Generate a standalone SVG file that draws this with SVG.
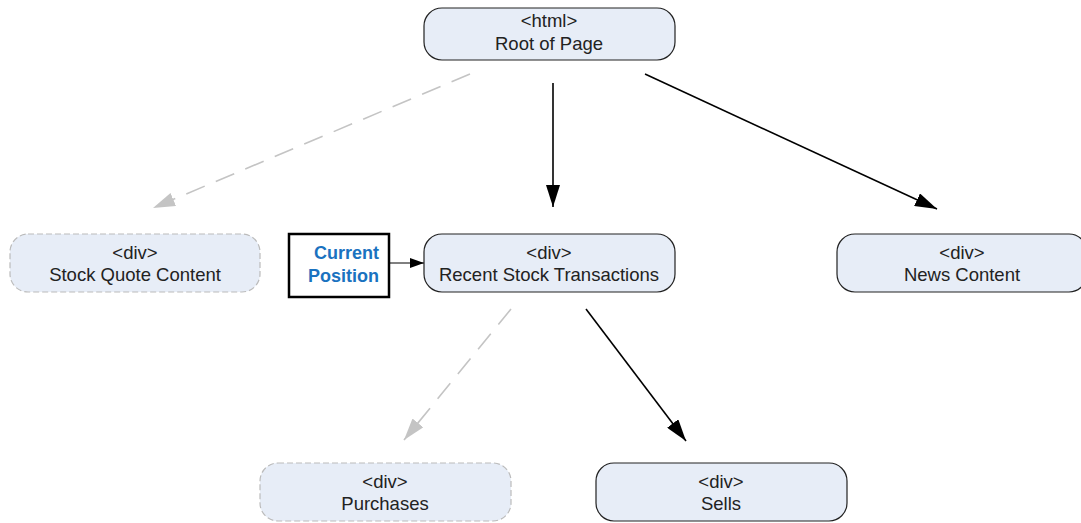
<svg xmlns="http://www.w3.org/2000/svg" width="1081" height="523" viewBox="0 0 1081 523">
<style>
.node{fill:#e7edf7;stroke:#222;stroke-width:1.2}
.ghost{fill:#e7edf7;stroke:#bbb;stroke-width:1.2;stroke-dasharray:6 3}
.t{font-family:"Liberation Sans",Arial,sans-serif;font-size:18.5px;fill:#222;text-anchor:middle}
.cp{font-family:"Liberation Sans",Arial,sans-serif;font-size:18px;font-weight:bold;fill:#1a72c0;text-anchor:end}
.e{stroke:#000;stroke-width:1.6;fill:none}
.g{stroke:#c4c4c4;stroke-width:1.6;fill:none;stroke-dasharray:20 12}
</style>
<defs>
<marker id="ab" viewBox="0 0 22 14" refX="22" refY="7" markerWidth="22" markerHeight="14" markerUnits="userSpaceOnUse" orient="auto"><path d="M0,0 L22,7 L0,14 Z" fill="#000"/></marker>
<marker id="ag" viewBox="0 0 22 14" refX="22" refY="7" markerWidth="22" markerHeight="14" markerUnits="userSpaceOnUse" orient="auto"><path d="M0,0 L22,7 L0,14 Z" fill="#c4c4c4"/></marker>
<marker id="as" viewBox="0 0 14 10" refX="14" refY="5" markerWidth="14" markerHeight="10" markerUnits="userSpaceOnUse" orient="auto"><path d="M0,0 L14,5 L0,10 Z" fill="#000"/></marker>
</defs>
<g id="connectors">
<line class="g" x1="470" y1="74" x2="153" y2="208" marker-end="url(#ag)"/>
<line class="e" x1="553" y1="83" x2="553" y2="207" marker-end="url(#ab)"/>
<line class="e" x1="645" y1="74" x2="937" y2="209" marker-end="url(#ab)"/>
<line class="g" x1="511" y1="309" x2="404" y2="440" marker-end="url(#ag)"/>
<line class="e" x1="586" y1="309" x2="686" y2="441" marker-end="url(#ab)"/>
<line stroke="#000" stroke-width="1" x1="390" y1="263" x2="424" y2="263" marker-end="url(#as)"/>
</g>
<g id="root"><rect class="node" x="424" y="8" width="251" height="52" rx="18"/><text class="t" x="549" y="27">&lt;html&gt;</text><text class="t" x="549" y="50">Root of Page</text></g>
<g id="stockquote"><rect class="ghost" x="10" y="234" width="250" height="58" rx="18"/><text class="t" x="135" y="259">&lt;div&gt;</text><text class="t" x="135" y="281">Stock Quote Content</text></g>
<g id="current"><rect x="289" y="234" width="100" height="63" fill="#fff" stroke="#000" stroke-width="2.5"/><text class="cp" x="379" y="259">Current</text><text class="cp" x="379" y="282">Position</text></g>
<g id="recent"><rect class="node" x="424" y="234" width="251" height="58" rx="18"/><text class="t" x="549" y="259">&lt;div&gt;</text><text class="t" x="549" y="281">Recent Stock Transactions</text></g>
<g id="news"><rect class="node" x="837" y="234" width="250" height="58" rx="18"/><text class="t" x="962" y="259">&lt;div&gt;</text><text class="t" x="962" y="281">News Content</text></g>
<g id="purchases"><rect class="ghost" x="260" y="463" width="251" height="58" rx="18"/><text class="t" x="385" y="488">&lt;div&gt;</text><text class="t" x="385" y="510">Purchases</text></g>
<g id="sells"><rect class="node" x="596" y="463" width="251" height="58" rx="18"/><text class="t" x="721" y="488">&lt;div&gt;</text><text class="t" x="721" y="510">Sells</text></g>
</svg>
